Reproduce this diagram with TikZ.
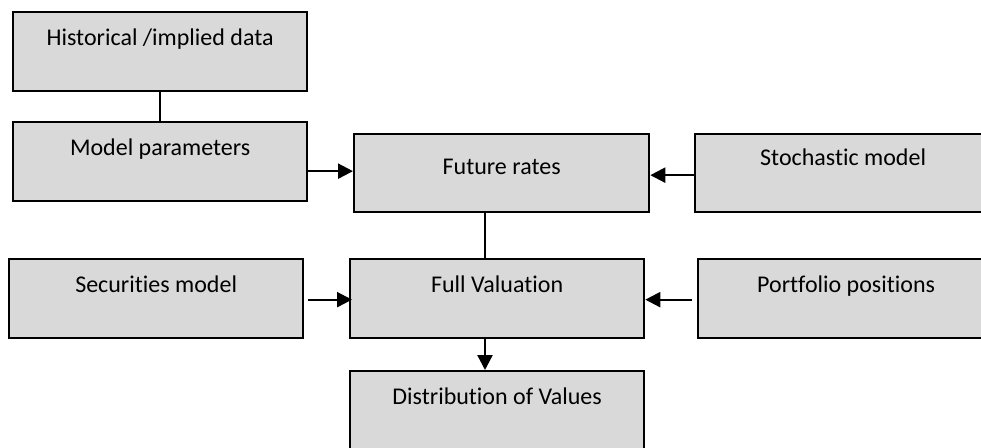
\documentclass[tikz,border=0pt]{standalone}
\usepackage{fontspec}
\setmainfont{Carlito}[RawFeature={-liga}]
\usetikzlibrary{arrows.meta}
\definecolor{boxgray}{HTML}{D9D9D9}
\tikzset{
  box/.style={draw=black, line width=2.3pt, fill=boxgray, rectangle, inner sep=0pt, anchor=north west},
  caption/.style={anchor=base, inner sep=0pt, font=\fontsize{24}{28}\selectfont},
  link/.style={line width=2.3pt},
  arr/.style={line width=2.3pt, -{Triangle[length=15pt,width=15pt]}}
}
\begin{document}
\begin{tikzpicture}[x=1pt,y=-1pt]
\useasboundingbox (0,0) rectangle (981,447);
\clip (0,0) rectangle (981,447);
% boxes (top-left corner, size)
\node[box, minimum width=294pt, minimum height=79pt] (hist) at (12,11) {};
\node[box, minimum width=294pt, minimum height=79pt] (mp)   at (12,121) {};
\node[box, minimum width=295pt, minimum height=78pt] (fr)   at (353,133) {};
\node[box, minimum width=296pt, minimum height=78pt] (st)   at (694,133) {};
\node[box, minimum width=294pt, minimum height=79pt] (sec)  at (8,258) {};
\node[box, minimum width=294pt, minimum height=79pt] (fv)   at (349,258) {};
\node[box, minimum width=296pt, minimum height=79pt] (pp)   at (697,258) {};
\node[box, minimum width=294pt, minimum height=82pt] (dist) at (349,370) {};
% captions, set near the top of each box
\node[caption] (thist) at ([yshift=-34pt]hist.north) {Historical /implied data};
\node[caption] (tmp)   at ([yshift=-34pt]mp.north)   {Model parameters};
\node[caption] (tfr)   at ([yshift=-41pt]fr.north)   {Future rates};
\node[caption] (tst)   at ([yshift=-32pt]st.north)   {Stochastic model};
\node[caption] (tsec)  at ([yshift=-34pt]sec.north)  {Securities model};
\node[caption] (tfv)   at ([yshift=-34pt]fv.north)   {Full Valuation};
\node[caption] (tpp)   at ([yshift=-34pt]pp.north)   {Portfolio positions};
\node[caption] (tdist) at ([yshift=-34pt]dist.north) {Distribution of Values};
% connectors
\coordinate (spine) at (485,0);
\draw[link] (hist.south) -- (mp.north);
\draw[arr] ([yshift=2pt]mp.east |- fr.west) -- ([yshift=2pt]fr.west);
\draw[arr] ([yshift=-2pt]st.west) -- ([yshift=-2pt]fr.east);
\draw[link] (fr.south -| spine) -- (fv.north -| spine);
\draw[arr] ([xshift=4pt,yshift=-1pt]sec.east) -- ([xshift=3pt,yshift=-1pt]fv.west);
\draw[arr] ([xshift=-5pt,yshift=-1pt]pp.west) -- ([yshift=-1pt]fv.east);
\draw[arr] (fv.south -| spine) -- (dist.north -| spine);
\end{tikzpicture}
\end{document}
